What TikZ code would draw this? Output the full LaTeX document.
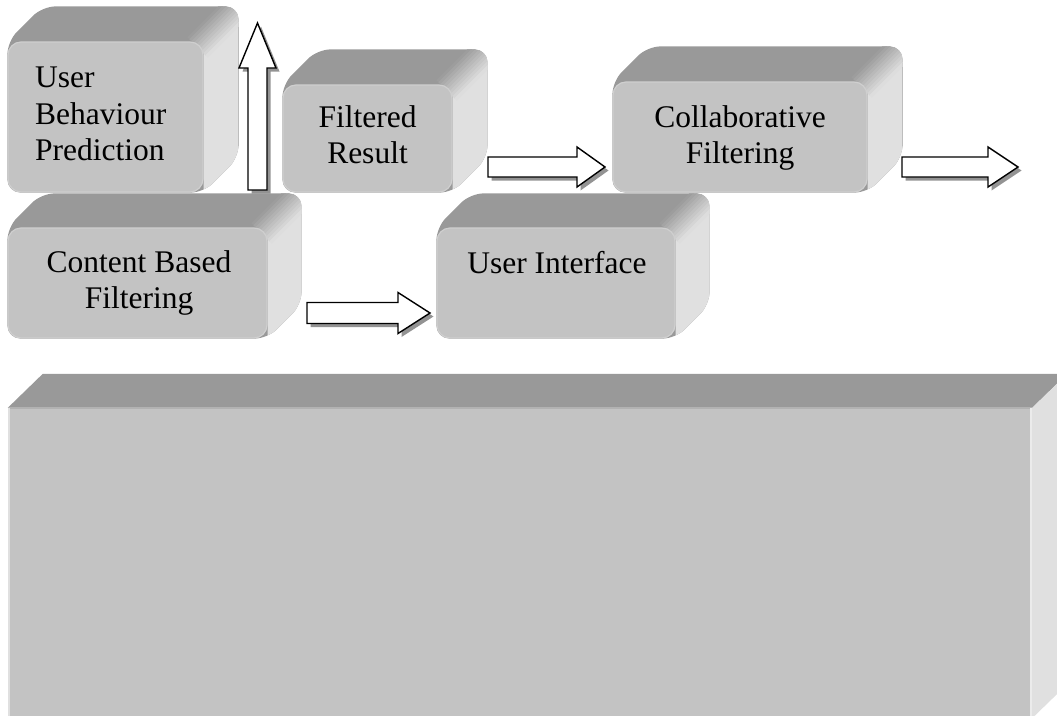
\documentclass[tikz,border=0pt]{standalone}
\usepackage{fontspec}
\setmainfont{Liberation Serif}
\usetikzlibrary{calc}
\definecolor{frontc}{HTML}{C3C3C3}
\definecolor{topc}{HTML}{999999}
\definecolor{sidec}{HTML}{E0E0E0}
\definecolor{edgec}{HTML}{CFCFCF}
\definecolor{shadowc}{HTML}{939393}
\pgfdeclarelayer{background}
\pgfsetlayers{background,main}

\tikzset{
  front/.style={draw=edgec, line width=1.2, fill=frontc, rounded corners=13, inner sep=0},
  bigfront/.style={fill=frontc, inner sep=0},
  lbl/.style={inner sep=0, font=\fontsize{31.5}{36.5}\selectfont},
  blockarrow/.style={draw=black, line width=1.4, fill=white, line join=miter},
  arrowshadow/.style={fill=shadowc, transform canvas={shift={(3.5pt,-3.5pt)}}}
}

% 3D sides of a rounded box whose front face is node #1, depth #2
\newcommand\boxsides[2]{%
  \begin{pgfonlayer}{background}
    \fill[topc, rounded corners=13] (#1.north west) -- ($(#1.north west)+(#2,-#2)$) -- ($(#1.north east)+(#2,-#2)$) -- ($(#1.south east)+(#2,-#2)$) -- (#1.south east) -- (#1.south west) -- cycle;
    \begin{scope}
      \clip[rounded corners=13] (#1.north west) -- ($(#1.north west)+(#2,-#2)$) -- ($(#1.north east)+(#2,-#2)$) -- ($(#1.south east)+(#2,-#2)$) -- (#1.south east) -- (#1.south west) -- cycle;
      \fill[sidec] (#1.north east) -- ($(#1.north east)+(#2,-#2)$) -- ($(#1.south east)+(#2,-#2)$) -- (#1.south east) -- cycle;
      \foreach \t [evaluate=\t as \p using {int((\t+10)*5)}] in {-9,-7,...,9}
        \draw[line width=3.4, sidec!\p!topc] ($(#1.north east)+({\t-6},{\t+6})$) -- ($(#1.north east)+({#2+\t+6},{-#2+\t-6})$);
    \end{scope}
  \end{pgfonlayer}}

% horizontal block arrow: tail #1, tip #2, shaft half width #3, head half width #4, head length #5
\newcommand\harrow[5]{%
  \fill[arrowshadow] ($(#1)+(0,-#3)$) -- ($(#2)+(-#5,-#3)$) -- ($(#2)+(-#5,-#4)$) -- (#2) -- ($(#2)+(-#5,#4)$) -- ($(#2)+(-#5,#3)$) -- ($(#1)+(0,#3)$) -- cycle;
  \draw[blockarrow] ($(#1)+(0,-#3)$) -- ($(#2)+(-#5,-#3)$) -- ($(#2)+(-#5,-#4)$) -- (#2) -- ($(#2)+(-#5,#4)$) -- ($(#2)+(-#5,#3)$) -- ($(#1)+(0,#3)$) -- cycle;}

% vertical (upward) block arrow
\newcommand\varrow[5]{%
  \fill[arrowshadow] ($(#1)+(-#3,0)$) -- ($(#2)+(-#3,#5)$) -- ($(#2)+(-#4,#5)$) -- (#2) -- ($(#2)+(#4,#5)$) -- ($(#2)+(#3,#5)$) -- ($(#1)+(#3,0)$) -- cycle;
  \draw[blockarrow] ($(#1)+(-#3,0)$) -- ($(#2)+(-#3,#5)$) -- ($(#2)+(-#4,#5)$) -- (#2) -- ($(#2)+(#4,#5)$) -- ($(#2)+(#3,#5)$) -- ($(#1)+(#3,0)$) -- cycle;}

\begin{document}
\begin{tikzpicture}[x=1pt,y=-1pt]
\useasboundingbox (0,0) rectangle (1057,715);

% big box
\node[bigfront, minimum width=1024pt, minimum height=310pt] (big) at (520,563) {};
\begin{pgfonlayer}{background}
  \fill[topc] (big.north west) -- ($(big.north west)+(35,-34)$) -- ($(big.north east)+(35,-34)$) -- (big.north east) -- cycle;
  \fill[sidec] (big.north east) -- ($(big.north east)+(35,-34)$) -- ($(big.south east)+(35,-34)$) -- (big.south east) -- cycle;
\end{pgfonlayer}
\draw[color=black!30, line width=2] (big.north west) -- (big.north east);
\draw[color=black!12, line width=2] ($(big.north west)+(1,0)$) -- ($(big.south west)+(1,0)$);
\draw[color=black!8, line width=2] ($(big.north east)+(-1,0)$) -- ($(big.south east)+(-1,0)$);

% small boxes
\node[front, minimum width=195pt, minimum height=150pt] (ubp) at (105.5,117) {};
\node[front, minimum width=169pt, minimum height=107pt] (fr) at (367.5,138.5) {};
\node[front, minimum width=254pt, minimum height=110pt] (cf) at (740,137) {};
\node[front, minimum width=259pt, minimum height=110pt] (cbf) at (137.5,283) {};
\node[front, minimum width=238pt, minimum height=110pt] (ui) at (556,283) {};
\boxsides{ubp}{35}
\boxsides{fr}{35}
\boxsides{cf}{35}
\boxsides{cbf}{34}
\boxsides{ui}{34}

% labels
\node[lbl, anchor=west, align=left] (ubpt) at (35,114) {User\\Behaviour\\Prediction};
\node[lbl, align=center] (frt) at (367.5,134.75) {Filtered\\Result};
\node[lbl, align=center] (cft) at (740,138) {Collaborative\\Filtering};
\node[lbl, align=center] (cbft) at (139,283) {Content Based\\Filtering};
\node[lbl, anchor=base] (uit) at (557,273) {User Interface};

% arrows
\coordinate (upTail) at (257.5,190);
\coordinate (upTip) at (257.5,23);
\coordinate (a1Tail) at (488,167);
\coordinate (a1Tip) at (605,167);
\coordinate (a2Tail) at (307,313);
\coordinate (a2Tip) at (430,313);
\coordinate (a3Tail) at (902,167);
\coordinate (a3Tip) at (1018,167);
\varrow{upTail}{upTip}{9.5}{18.5}{45}
\harrow{a1Tail}{a1Tip}{10}{20}{28}
\harrow{a2Tail}{a2Tip}{10.5}{20.5}{32}
\harrow{a3Tail}{a3Tip}{10}{20}{30}
\end{tikzpicture}
\end{document}
